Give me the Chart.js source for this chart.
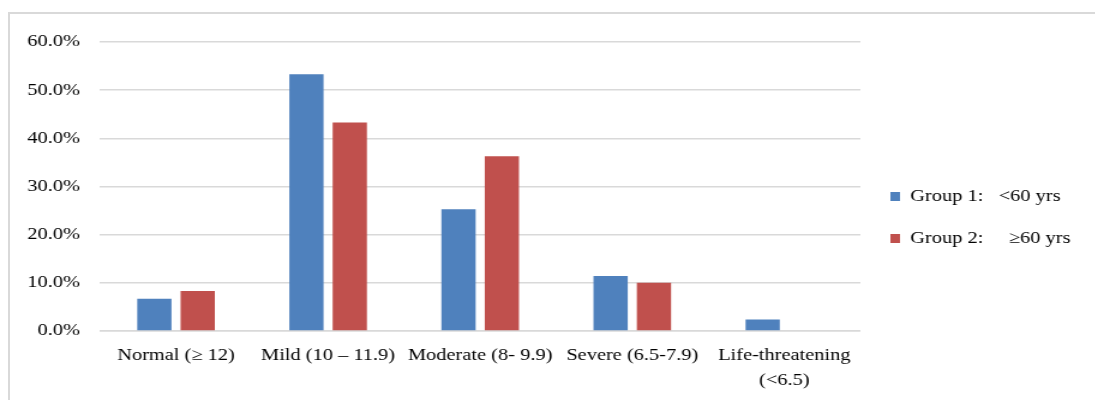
<!DOCTYPE html>
<html>
<head>
<meta charset="utf-8">
<script src="https://cdn.jsdelivr.net/npm/chart.js@4"></script>
<style>
  body { margin: 0; background: #fff; overflow: hidden; }
  #box {
    position: absolute; left: 8px; top: 12px; width: 1100px; height: 400px;
    border: 2px solid #d9d9d9;
  }
  /* la imagen original esta estirada en horizontal (~1.2x) */
  #wrap {
    position: absolute; left: 0; top: 0; width: 913px; height: 400px;
    transform: scaleX(1.2); transform-origin: 0 0;
  }
</style>
</head>
<body>
<div id="box"></div>
<div id="wrap"><canvas id="bar-chart"></canvas></div>
<script>
// categorias de hemoglobina (g/dL)
const categories = [
  "Normal (\u2265 12)",
  "Mild (10 \u2013 11.9)",
  "Moderate (8- 9.9)",
  "Severe (6.5-7.9)",
  ["Life-threatening", "(<6.5)"]
]
const group1 = [6.7, 53.3, 25.3, 11.4, 2.4]
const group2 = [8.3, 43.3, 36.3, 10.0, 0]
const yTicks = [0, 10, 20, 30, 40, 50, 60]

Chart.defaults.font.family = '"Liberation Serif", "Times New Roman", serif'
Chart.defaults.font.size = 17
Chart.defaults.color = "#000"

const contenedor = document.querySelector("#bar-chart").getContext("2d")

const barChart = new Chart(contenedor, {
  type: "bar",
  data: {
    labels: categories,
    datasets: [
      {
        label: "Group 1:   <60 yrs",
        data: group1,
        backgroundColor: "#4F81BD",
        categoryPercentage: 0.57,
        barPercentage: 0.79
      },
      {
        label: "Group 2:     \u226560 yrs",
        data: group2,
        backgroundColor: "#C0504D",
        categoryPercentage: 0.57,
        barPercentage: 0.79
      }
    ]
  },
  options: {
    responsive: true,
    maintainAspectRatio: false,
    animation: false,
    layout: { padding: { top: 42, right: 11, bottom: 7, left: 0 } },
    plugins: {
      tooltip: { enabled: false },
      legend: {
        position: "right",
        labels: {
          boxWidth: 8,
          boxHeight: 9,
          padding: 25,
          font: { size: 17 }
        }
      }
    },
    scales: {
      x: {
        afterFit: (scale) => { scale.height = 62 },
        grid: { display: false, drawTicks: false },
        border: { color: "#d9d9d9", width: 1.5 },
        ticks: { padding: 12.5, maxRotation: 0, autoSkip: false, font: { size: 17, lineHeight: 1.45 } }
      },
      y: {
        min: 0,
        max: 60,
        afterFit: (scale) => { scale.width = 83.3 },
        afterBuildTicks: (scale) => { scale.ticks = yTicks.map(v => ({ value: v })) },
        grid: { color: "#d9d9d9", lineWidth: 1.5, drawTicks: false },
        border: { display: false },
        ticks: {
          padding: 16.7,
          callback: (v) => v.toFixed(1) + "%"
        }
      }
    }
  }
})
</script>
</body>
</html>
